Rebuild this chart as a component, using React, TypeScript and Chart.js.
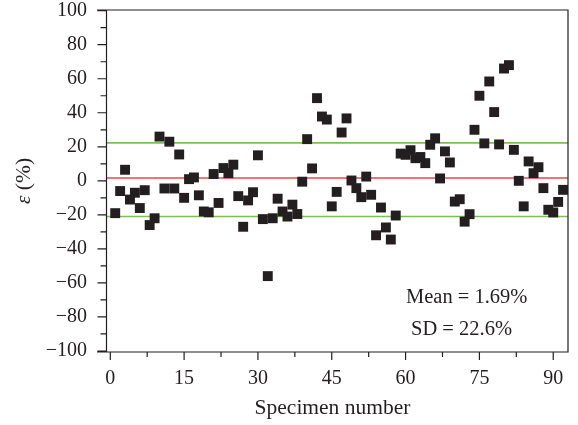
import React, { useEffect, useRef } from 'react';
import { Chart, registerables } from 'chart.js';

Chart.register(...registerables);

// Relative error of each specimen (%), specimens 1..92
const errors: number[] = [
  -19, -6, 6.5, -11, -7, -16, -5.5, -26, -22, 26,
  -4.5, 23, -4.5, 15.5, -10, 1, 2, -8.5, -18, -18.5,
  4, -13, 7.5, 4.5, 9.5, -9, -27, -11.5, -6.7, 15,
  -22.5, -56, -22, -10.5, -18, -21, -14, -19.5, -0.5, 24.5,
  7.3, 48.6, 37.8, 36, -15, -6.5, 28.4, 36.7, 0.2, -4.3,
  -9.6, 2.5, -8.2, -32, -15.7, -27.4, -34.5, -20.4, 16, 15.3,
  18, 13.3, 14, 10.4, 21.2, 25, 1.4, 17.3, 10.8, -12.2,
  -10.8, -24, -19.6, 30, 50, 22, 58.4, 40.4, 21.4, 66,
  68, 18.2, 0, -15, 11.4, 4.5, 8, -4.3, -17, -18.6,
  -12.4, -5.3,
];

const meanLevel = 1.69;
const upperLevel = 22.3;
const lowerLevel = -21;

const xMajorTicks = [0, 15, 30, 45, 60, 75, 90];
const xMinorTicks = [7.5, 22.5, 37.5, 52.5, 67.5, 82.5];
const yMajorTicks = [-100, -80, -60, -40, -20, 0, 20, 40, 60, 80, 100];
const yMinorTicks = [-90, -70, -50, -30, -10, 10, 30, 50, 70, 90];

const xTitle = 'Specimen number';
const yTitleSymbol = 'ε';
const yTitleUnit = ' (%)';
const meanText = 'Mean = 1.69%';
const sdText = 'SD = 22.6%';

const X_MIN = -2.7;
const X_MAX = 93;
const Y_AXIS_AT = -0.87;
const INK = '#231f20';
const FONT = "'Liberation Serif', 'Times New Roman', serif";

const framePlugin = {
  id: 'framePlugin',
  afterDraw(chart: any) {
    const { ctx, chartArea } = chart;
    const xs = chart.scales.x;
    const ys = chart.scales.y;
    const { left, right, top, bottom } = chartArea;
    const axisX = Math.round(xs.getPixelForValue(Y_AXIS_AT)) + 0.5;
    ctx.save();
    ctx.strokeStyle = INK;
    ctx.lineWidth = 1.2;
    ctx.beginPath();
    ctx.moveTo(left, top);
    ctx.lineTo(right, top);
    ctx.lineTo(right, bottom);
    ctx.lineTo(left, bottom);
    ctx.moveTo(axisX, top);
    ctx.lineTo(axisX, bottom);
    yMajorTicks.forEach((v) => {
      const p = ys.getPixelForValue(v);
      ctx.moveTo(axisX, p);
      ctx.lineTo(axisX - 9, p);
    });
    yMinorTicks.forEach((v) => {
      const p = ys.getPixelForValue(v);
      ctx.moveTo(axisX, p);
      ctx.lineTo(axisX - 6, p);
    });
    xMajorTicks.forEach((v) => {
      const p = xs.getPixelForValue(v);
      ctx.moveTo(p, bottom);
      ctx.lineTo(p, bottom + 8);
    });
    xMinorTicks.forEach((v) => {
      const p = xs.getPixelForValue(v);
      ctx.moveTo(p, bottom);
      ctx.lineTo(p, bottom + 5);
    });
    ctx.stroke();

    ctx.fillStyle = INK;
    ctx.font = `20.5px ${FONT}`;
    ctx.textBaseline = 'middle';
    ctx.textAlign = 'left';
    ctx.fillText(meanText, 406, 298);
    ctx.fillText(sdText, 411, 330);

    ctx.translate(24, (top + bottom) / 2);
    ctx.rotate(-Math.PI / 2);
    ctx.font = `italic 21.5px ${FONT}`;
    const w1 = ctx.measureText(yTitleSymbol).width;
    ctx.font = `21.5px ${FONT}`;
    const w2 = ctx.measureText(yTitleUnit).width;
    const start = -(w1 + w2) / 2;
    ctx.font = `italic 21.5px ${FONT}`;
    ctx.fillText(yTitleSymbol, start, 0);
    ctx.font = `21.5px ${FONT}`;
    ctx.fillText(yTitleUnit, start + w1, 0);
    ctx.restore();
  },
};

export default function App() {
  const canvasRef = useRef<HTMLCanvasElement | null>(null);

  useEffect(() => {
    document.body.style.margin = '0';
    const canvas = canvasRef.current;
    if (!canvas) return;
    const points = errors.map((v, i) => ({ x: i + 1, y: v }));
    const hLine = (level: number) => [
      { x: Y_AXIS_AT, y: level },
      { x: X_MAX, y: level },
    ];
    const chart = new Chart(canvas, {
      type: 'scatter',
      data: {
        datasets: [
          {
            label: 'Error',
            data: points,
            pointStyle: 'rect',
            pointRadius: 7,
            pointBackgroundColor: INK,
            pointBorderWidth: 0,
            borderWidth: 0,
          } as any,
          {
            type: 'line',
            label: 'Mean',
            data: hLine(meanLevel),
            borderColor: '#e8474b',
            borderWidth: 1.6,
            pointRadius: 0,
          } as any,
          {
            type: 'line',
            label: 'Upper',
            data: hLine(upperLevel),
            borderColor: '#7cbf5a',
            borderWidth: 1.6,
            pointRadius: 0,
          } as any,
          {
            type: 'line',
            label: 'Lower',
            data: hLine(lowerLevel),
            borderColor: '#7cbf5a',
            borderWidth: 1.6,
            pointRadius: 0,
          } as any,
        ],
      },
      options: {
        animation: false,
        responsive: true,
        maintainAspectRatio: false,
        layout: { padding: { top: 10, right: 10, left: 0, bottom: 0 } },
        plugins: { legend: { display: false }, tooltip: { enabled: false } },
        scales: {
          x: {
            type: 'linear',
            min: X_MIN,
            max: X_MAX,
            afterBuildTicks: (s: any) => {
              s.ticks = xMajorTicks.map((v) => ({ value: v }));
            },
            afterFit: (s: any) => {
              s.height = 73;
              s.paddingLeft = 0;
              s.paddingRight = 0;
            },
            grid: { display: false, drawTicks: false },
            border: { display: false },
            ticks: {
              padding: 15,
              color: INK,
              font: { family: FONT, size: 20 },
              maxRotation: 0,
              autoSkip: false,
            },
            title: {
              display: true,
              text: xTitle,
              color: INK,
              font: { family: FONT, size: 21.5 },
              padding: { top: 0, bottom: 4 },
            },
          },
          y: {
            type: 'linear',
            min: -100.6,
            max: 100.4,
            afterBuildTicks: (s: any) => {
              s.ticks = yMajorTicks.map((v) => ({ value: v }));
            },
            afterFit: (s: any) => {
              s.width = 97;
              s.paddingTop = 0;
              s.paddingBottom = 0;
            },
            grid: { display: false, drawTicks: false },
            border: { display: false },
            ticks: {
              padding: 10,
              color: INK,
              font: { family: FONT, size: 20 },
              autoSkip: false,
              callback: (v: any) => String(v).replace('-', '\u2212'),
            },
          },
        },
      },
      plugins: [framePlugin],
    });
    return () => chart.destroy();
  }, []);

  return (
    <div style={{ position: 'fixed', left: 0, top: 0, width: 578, height: 425 }}>
      <canvas ref={canvasRef} />
    </div>
  );
}
